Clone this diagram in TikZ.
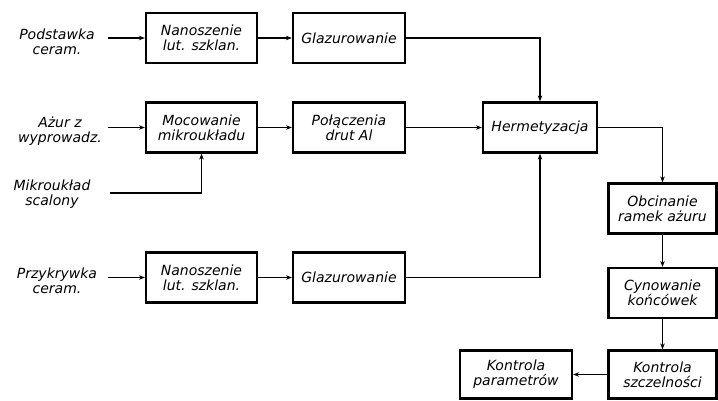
\documentclass[tikz,border=0pt]{standalone}
\usepackage{fontspec}
\setmainfont{DejaVu Sans}
\usetikzlibrary{arrows.meta}
\begin{document}
\begin{tikzpicture}[x=1pt,y=-1pt,
  txt/.style={font=\itshape\fontsize{14}{15}\selectfont},
  box/.style={txt, draw, line width=2.2pt, minimum width=111pt, minimum height=50pt, inner sep=0pt, align=center},
  lbl/.style={txt, align=center, inner sep=0pt},
  conn/.style={line width=1.2pt},
  arr/.style={conn, -{Stealth[length=6pt,width=4.5pt]}}]
\useasboundingbox[fill=white] (0,0) rectangle (718,400);
% boxes
\node[box] (n1) at (201.5,38) {Nanoszenie\\lut. szklan.};
\node[box, minimum width=112pt] (g1) at (349,38) {Glazurowanie};
\node[box] (m) at (201.5,127.5) {Mocowanie\\mikroukładu};
\node[box, minimum width=112pt] (p) at (349,127.5) {Połączenia\\drut Al};
\node[box, minimum width=114pt] (h) at (540,127.5) {Hermetyzacja};
\node[box] (n2) at (201.5,277.5) {Nanoszenie\\lut. szklan.};
\node[box, minimum width=112pt] (g2) at (349,277.5) {Glazurowanie};
\node[box, minimum width=108pt] (o) at (662.5,208.5) {Obcinanie\\ramek ażuru};
\node[box, minimum width=108pt] (c) at (662.5,293) {Cynowanie\\końcówek};
\node[box, minimum width=108pt, minimum height=48pt] (ks) at (662.5,374.5) {Kontrola\\szczelności};
\node[box, minimum width=112pt, minimum height=48pt] (kp) at (516,374.5) {Kontrola\\parametrów};
% input labels
\node[lbl] (l1) at (57,42) {Podstawka\\ceram.};
\node[lbl] (l2) at (60,131) {Ażur z\\wyprowadz.};
\node[lbl] (l3) at (52,194) {Mikroukład\\scalony};
\node[lbl] (l4) at (57,281) {Przykrywka\\ceram.};
% free ends
\coordinate (s1) at (108,38);
\coordinate (s2) at (108,127.5);
\coordinate (s3) at (110,193);
\coordinate (s4) at (108,277.5);
% connectors
\draw[arr] (s1) -- (n1.west);
\draw[arr] (n1) -- (g1);
\draw[arr] (g1.east) -| (h.north);
\draw[arr] (s2) -- (m.west);
\draw[arr] (m) -- (p);
\draw[arr] (p) -- (h);
\draw[arr] (s3) -| (m.south);
\draw[arr] (s4) -- (n2.west);
\draw[arr] (n2) -- (g2);
\draw[arr] (g2.east) -| (h.south);
\draw[arr] (h.east) -| (o.north);
\draw[arr] (o) -- (c);
\draw[arr] (c) -- (ks);
\draw[arr] (ks) -- (kp);
\end{tikzpicture}
\end{document}
